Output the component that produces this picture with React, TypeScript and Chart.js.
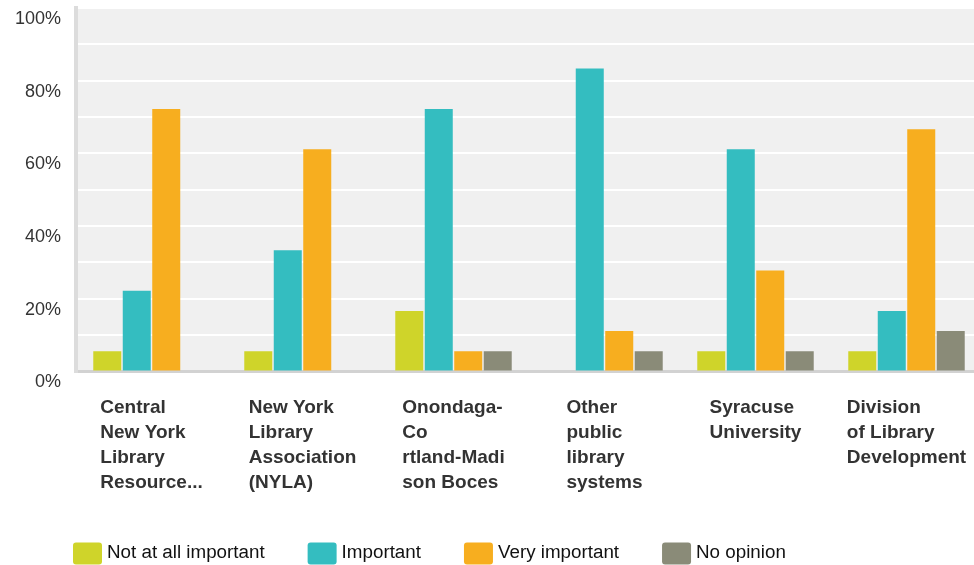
import React, { useEffect, useRef } from 'react';
import { Chart, registerables } from 'chart.js';

Chart.register(...registerables);

const categories: string[][] = [
  ['Central', 'New York', 'Library', 'Resource...'],
  ['New York', 'Library', 'Association', '(NYLA)'],
  ['Onondaga-', 'Co', 'rtland-Madi', 'son Boces'],
  ['Other', 'public', 'library', 'systems'],
  ['Syracuse', 'University'],
  ['Division', 'of Library', 'Development'],
];
const seriesNames = ['Not at all important', 'Important', 'Very important', 'No opinion'];
const notAtAllImportant = [5.56, 5.56, 16.67, 0, 5.56, 5.56];
const important = [22.22, 33.33, 72.22, 83.33, 61.11, 16.67];
const veryImportant = [72.22, 61.11, 5.56, 11.11, 27.78, 66.67];
const noOpinion = [0, 0, 5.56, 5.56, 5.56, 11.11];
const seriesColors = ['#cfd42a', '#34bdc0', '#f7ae1f', '#8a8b78'];
const yTickLabels = [0, 20, 40, 60, 80, 100];

const FONT = '"Liberation Sans", Arial, Helvetica, sans-serif';

const bgPlugin = {
  id: 'plotBg',
  beforeDraw(chart: any) {
    const { ctx, chartArea } = chart;
    ctx.save();
    ctx.fillStyle = '#f0f0f0';
    ctx.fillRect(chartArea.left, chartArea.top, chartArea.right - chartArea.left, chartArea.bottom - chartArea.top);
    ctx.restore();
  },
};

const labelsAndLegendPlugin = {
  id: 'labelsLegend',
  afterDraw(chart: any) {
    const ctx = chart.ctx;
    const xs = chart.scales.x;
    ctx.save();
    // category labels: block centered under category, lines left-aligned
    ctx.font = `bold 19px ${FONT}`;
    ctx.fillStyle = '#333333';
    ctx.textAlign = 'left';
    ctx.textBaseline = 'alphabetic';
    categories.forEach((lines, i) => {
      const cx = xs.getPixelForValue(i);
      const w = Math.max(...lines.map((l) => ctx.measureText(l).width));
      lines.forEach((l, k) => {
        ctx.fillText(l, cx - w / 2, xs.top + 41 + k * 25);
      });
    });
    // legend
    ctx.font = `18.8px ${FONT}`;
    ctx.textBaseline = 'middle';
    let x = 73;
    const boxW = 29;
    const boxH = 22;
    const boxY = 542.5;
    chart.data.datasets.forEach((ds: any) => {
      ctx.fillStyle = ds.backgroundColor;
      ctx.beginPath();
      (ctx as any).roundRect(x, boxY, boxW, boxH, 3);
      ctx.fill();
      ctx.fillStyle = '#111111';
      ctx.fillText(ds.label, x + boxW + 5, boxY + boxH / 2 - 1);
      x += boxW + 5 + ctx.measureText(ds.label).width + 43;
    });
    ctx.restore();
  },
};

export default function App() {
  const canvasRef = useRef<HTMLCanvasElement | null>(null);

  useEffect(() => {
    document.body.style.margin = '0';
    document.body.style.overflow = 'hidden';
    document.documentElement.style.overflow = 'hidden';
    if (!canvasRef.current) return;
    const seriesValues = [notAtAllImportant, important, veryImportant, noOpinion];
    const chart = new Chart(canvasRef.current, {
      type: 'bar',
      data: {
        labels: categories.map((c) => c.join(' ')),
        datasets: seriesNames.map((name, i) => ({
          label: name,
          data: seriesValues[i],
          backgroundColor: seriesColors[i],
          borderWidth: 0,
          categoryPercentage: 0.781,
          barPercentage: 0.95,
        })),
      },
      options: {
        animation: false,
        responsive: true,
        maintainAspectRatio: false,
        layout: { padding: { top: 8, left: 0, right: 0, bottom: 0 } },
        plugins: {
          legend: { display: false },
          tooltip: { enabled: false },
        },
        scales: {
          x: {
            grid: { display: false, drawTicks: false },
            border: { display: true, color: '#d2d2d2', width: 3 },
            ticks: { display: false },
            afterFit: (scale: any) => {
              scale.height = 193.5;
              scale.paddingLeft = 0;
              scale.paddingRight = 0;
            },
          },
          y: {
            min: 0,
            max: 100,
            grid: { color: '#ffffff', lineWidth: 2, drawTicks: false },
            border: { display: true, color: '#dcdcdc', width: 4 },
            ticks: {
              stepSize: 10,
              padding: 15,
              labelOffset: 11,
              color: '#333333',
              font: { family: FONT, size: 18 },
              callback: (v: any) => (yTickLabels.includes(Number(v)) ? `${v}%` : ''),
            },
            afterFit: (scale: any) => {
              scale.width = 76;
              scale.paddingTop = 0;
              scale.paddingBottom = 0;
            },
          },
        },
      },
      plugins: [bgPlugin, labelsAndLegendPlugin],
    });
    return () => chart.destroy();
  }, []);

  return (
    <div style={{ width: 982, height: 565, position: 'relative' }}>
      <canvas ref={canvasRef} />
    </div>
  );
}
